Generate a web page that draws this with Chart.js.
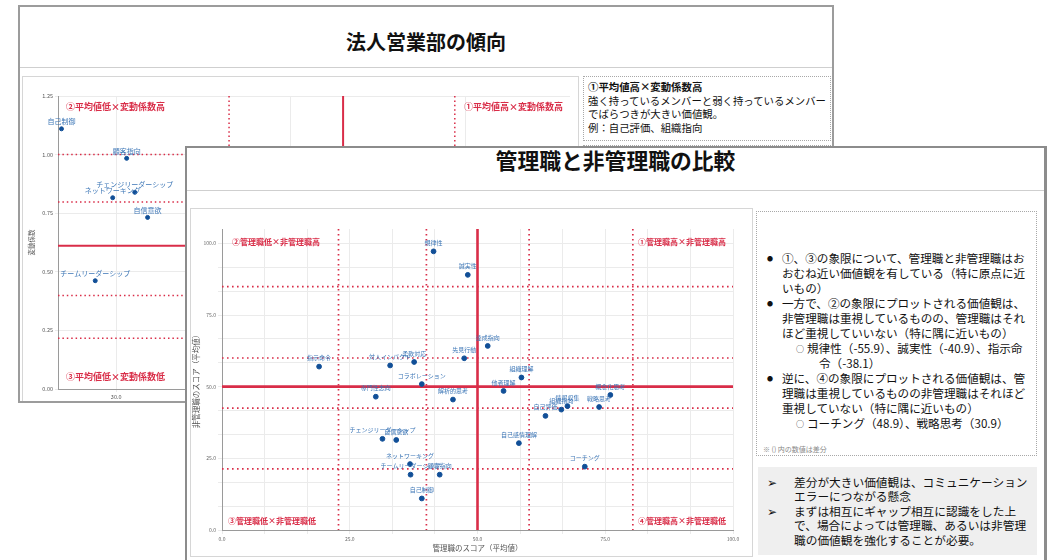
<!DOCTYPE html>
<html><head><meta charset="utf-8">
<script src="https://cdn.jsdelivr.net/npm/chart.js@4.4.0/dist/chart.umd.min.js"></script>
<style>
body{margin:0;width:1051px;height:560px;overflow:hidden;background:#fff;font-family:"Noto Sans CJK JP","Noto Sans",sans-serif;position:relative;color:#111;}
.a{position:absolute;box-sizing:border-box;}
#back{left:18px;top:5px;width:816px;height:398px;border:2px solid #9c9c9c;background:#fff;overflow:hidden;z-index:1;}
#front{left:185px;top:146px;width:862px;height:430px;border:2px solid #8c8c8c;border-right:3px solid #8c8c8c;background:#fff;overflow:hidden;z-index:3;}
.title{left:0;width:100%;text-align:center;font-weight:bold;white-space:nowrap;}
.hline{left:0;width:100%;height:1px;background:#cfcfcf;}
.card{border:1px solid #d6d6d6;background:#fff;}
.dbox{border:1px dotted #a8a8a8;}
.row{position:absolute;white-space:nowrap;}
.dot{font-size:6px;}
</style>
</head><body>
<script>
// ---------- data: front chart (管理職と非管理職の比較) ----------
const frontNames = ['規律性','誠実性','指示命令','対人インパクト','柔軟対応','コラボレーション','先見行動','達成指向','組織理解','他者理解','専門性志向','解析的思考','チェンジリーダーシップ','自信意欲','ネットワーキング','チームリーダーシップ','顧客指向','自己制御','概念化思考','戦略思考','情報収集','組織指向','自己評価','自己感情理解','コーチング'];
const managerScore = [41.4,48.1,19.0,32.9,37.6,39.1,47.4,52.0,58.6,55.1,30.1,45.2,31.4,34.1,36.8,36.9,42.6,39.1,76.0,73.8,67.6,66.4,63.3,58.1,71.0];
const staffScore   = [97.2,89.0,57.0,57.4,58.6,50.9,59.9,64.2,53.2,48.5,46.5,45.5,31.8,31.4,23.0,19.3,19.3,11.0,47.1,42.9,43.2,42.0,39.8,30.3,22.1];
const frontSolidX = [50];
const frontSolidY = [50];
const frontDotX = [22.8,40.0,60.1,80.4];
const frontDotY = [84.9,60.0,42.5,21.3];
const frontQuadLabels = ['①管理職高×非管理職高','②管理職低×非管理職高','③管理職低×非管理職低','④管理職高×非管理職低'];
const frontTickStep = 25/3;

// ---------- data: back chart (法人営業部の傾向) ----------
const backNames = ['自己制御','顧客指向','チェンジリーダーシップ','ネットワーキング','自信意欲','チームリーダーシップ'];
const backMean  = [25.3,30.9,31.6,29.7,32.7,28.2];
const backCV    = [1.110,0.984,0.839,0.816,0.732,0.462];
const backSolidX = [49.5];
const backSolidY = [0.611];
const backDotX = [39.7,59.1];
const backDotY = [1.0,0.798,0.399,0.217];
const backQuadLabels = ['①平均値高×変動係数高','②平均値低×変動係数高','③平均値低×変動係数低'];
const backXTicks = [30,45,60];
</script>

<div id="back" class="a">
  <div class="a title" style="top:5px;height:60px;line-height:60px;font-size:20px;">法人営業部の傾向</div>
  <div class="a hline" style="top:60px;"></div>
  <div class="a card" style="left:2px;top:69px;width:557px;height:340px;"></div>
  <div class="a" style="left:2px;top:69px;width:556px;height:340px;"><canvas id="cb" width="556" height="340" style="width:556px;height:340px;display:block"></canvas></div>
  <div class="a dbox" style="left:563px;top:69px;width:248px;height:65px;font-size:10.4px;line-height:13.6px;">
    <div class="row" style="left:4px;top:3px;font-weight:bold;">①平均値高×変動係数高</div>
    <div class="row" style="left:4px;top:16.6px;">強く持っているメンバーと弱く持っているメンバー</div>
    <div class="row" style="left:4px;top:30.2px;">でばらつきが大きい価値観。</div>
    <div class="row" style="left:4px;top:43.8px;">例：自己評価、組織指向</div>
  </div>
  <div class="a dbox" style="left:563px;top:138px;width:248px;height:200px;"></div>
</div>

<div id="front" class="a">
  <div class="a title" style="top:-3px;height:30px;line-height:30px;font-size:21.8px;">管理職と非管理職の比較</div>
  <div class="a hline" style="top:42px;"></div>
  <div class="a card" style="left:3px;top:60px;width:563px;height:349px;"></div>
  <div class="a" style="left:3px;top:60px;width:562px;height:347px;"><canvas id="cf" width="562" height="347" style="width:562px;height:347px;display:block"></canvas></div>
  <div class="a dbox" style="left:569px;top:63px;width:281px;height:245px;font-size:11.6px;line-height:15px;">
    <div class="row dot" style="left:10px;top:38.5px;">●</div>
    <div class="row" style="left:25px;top:38.5px;">①、③の象限について、管理職と非管理職はお</div>
    <div class="row" style="left:25px;top:53.5px;">おむね近い価値観を有している（特に原点に近</div>
    <div class="row" style="left:25px;top:68.5px;">いもの）</div>
    <div class="row dot" style="left:10px;top:83.5px;">●</div>
    <div class="row" style="left:25px;top:83.5px;">一方で、②の象限にプロットされる価値観は、</div>
    <div class="row" style="left:25px;top:98.5px;">非管理職は重視しているものの、管理職はそれ</div>
    <div class="row" style="left:25px;top:113.5px;">ほど重視していいない（特に隅に近いもの）</div>
    <div class="row" style="left:39px;top:128.5px;font-size:8px;">○</div>
    <div class="row" style="left:50px;top:128.5px;">規律性（-55.9）、誠実性（-40.9）、指示命</div>
    <div class="row" style="left:62px;top:143.5px;">令（-38.1）</div>
    <div class="row dot" style="left:10px;top:158.5px;">●</div>
    <div class="row" style="left:25px;top:158.5px;">逆に、④の象限にプロットされる価値観は、管</div>
    <div class="row" style="left:25px;top:173.5px;">理職は重視しているものの非管理職はそれほど</div>
    <div class="row" style="left:25px;top:188.5px;">重視していない（特に隅に近いもの）</div>
    <div class="row" style="left:39px;top:203.5px;font-size:8px;">○</div>
    <div class="row" style="left:50px;top:203.5px;">コーチング（48.9）、戦略思考（30.9）</div>
    <div class="row" style="left:6px;top:233px;font-size:7px;line-height:9px;color:#888;">※ () 内の数値は差分</div>
  </div>
  <div class="a" style="left:571px;top:319px;width:279px;height:88px;background:#efefef;font-size:11.7px;line-height:14.6px;">
    <div class="row" style="left:9px;top:7.5px;">➢</div>
    <div class="row" style="left:36px;top:7.5px;">差分が大きい価値観は、コミュニケーション</div>
    <div class="row" style="left:36px;top:22.1px;">エラーにつながる懸念</div>
    <div class="row" style="left:9px;top:36.7px;">➢</div>
    <div class="row" style="left:36px;top:36.7px;">まずは相互にギャップ相互に認識をした上</div>
    <div class="row" style="left:36px;top:51.3px;">で、場合によっては管理職、あるいは非管理</div>
    <div class="row" style="left:36px;top:65.9px;">職の価値観を強化することが必要。</div>
  </div>
</div>

<script>
const FONT = '"Noto Sans CJK JP","Noto Sans",sans-serif';
const RED = '#d92d48';

const overlay = {
  id: 'overlay',
  beforeDatasetsDraw(chart, args, o) {
    const {ctx, chartArea: a, scales: {x, y}} = chart;
    ctx.save();
    ctx.beginPath(); ctx.rect(a.left, a.top, a.right - a.left, a.bottom - a.top); ctx.clip();
    ctx.strokeStyle = RED;
    const seg = (x1, y1, x2, y2) => { ctx.beginPath(); ctx.moveTo(x1, y1); ctx.lineTo(x2, y2); ctx.stroke(); };
    ctx.lineWidth = o.dotWidth; ctx.setLineDash(o.dash); ctx.lineCap = 'butt';
    o.dotX.forEach(v => { const p = x.getPixelForValue(v); seg(p, a.top, p, a.bottom); });
    o.dotY.forEach(v => { const p = y.getPixelForValue(v); seg(a.left, p, a.right, p); });
    ctx.setLineDash([]); ctx.lineWidth = o.solidWidth;
    o.solidX.forEach(v => { const p = x.getPixelForValue(v); seg(p, a.top, p, a.bottom); });
    o.solidY.forEach(v => { const p = y.getPixelForValue(v); seg(a.left, p, a.right, p); });
    ctx.restore();
  },
  afterDatasetsDraw(chart, args, o) {
    const {ctx, chartArea: a} = chart;
    ctx.save();
    ctx.font = o.labelSize + 'px ' + FONT;
    ctx.fillStyle = '#3c76b6';
    ctx.textAlign = 'center'; ctx.textBaseline = 'middle';
    chart.getDatasetMeta(0).data.forEach((pt, i) => ctx.fillText(o.names[i], pt.x, pt.y - o.labelOffset));
    ctx.font = 'bold ' + o.quadSize + 'px ' + FONT;
    ctx.fillStyle = RED;
    o.quads.forEach(q => {
      ctx.textAlign = q.align;
      const px = q.align === 'left' ? a.left + q.dx : a.right - q.dx;
      const py = q.top ? a.top + q.dy : a.bottom - q.dy;
      ctx.fillText(q.text, px, py);
    });
    ctx.restore();
  }
};

// ---------- front chart ----------
new Chart(document.getElementById('cf'), {
  type: 'scatter',
  data: { datasets: [{
    data: managerScore.map((v, i) => ({x: v, y: staffScore[i]})),
    backgroundColor: '#114f97', borderColor: '#114f97', pointRadius: 2.4, pointHoverRadius: 2.4
  }]},
  options: {
    responsive: false, animation: false, devicePixelRatio: 1,
    layout: { padding: {left: 0, top: 21, right: 19, bottom: 0} },
    plugins: {
      legend: {display: false}, tooltip: {enabled: false},
      overlay: {
        names: frontNames, labelSize: 6, labelOffset: 8.7,
        dotX: frontDotX, dotY: frontDotY, solidX: frontSolidX, solidY: frontSolidY,
        dotWidth: 1.7, dash: [1.6, 3.4], solidWidth: 2.6, quadSize: 8,
        quads: [
          {text: frontQuadLabels[0], align: 'right', dx: 7, top: true, dy: 13},
          {text: frontQuadLabels[1], align: 'left', dx: 10, top: true, dy: 13},
          {text: frontQuadLabels[2], align: 'left', dx: 6, top: false, dy: 9},
          {text: frontQuadLabels[3], align: 'right', dx: 7, top: false, dy: 9}
        ]
      }
    },
    scales: {
      x: {
        type: 'linear', min: 0, max: 100,
        afterBuildTicks: s => { const t = []; for (let i = 0; i <= 12; i++) t.push({value: i * frontTickStep}); s.ticks = t; },
        afterFit: s => { s.height = 25; },
        grid: {color: '#ebebeb', tickLength: 4, drawTicks: true},
        border: {color: '#9a9a9a', width: 1},
        ticks: {font: {size: 5, family: FONT}, color: '#666', padding: 2, maxRotation: 0, autoSkip: false,
          callback: v => (Math.abs(v / 25 - Math.round(v / 25)) < 1e-6 ? (Math.round(v * 10) / 10).toFixed(1) : '')},
        title: {display: true, text: '管理職のスコア（平均値）', font: {size: 7.5, family: FONT}, color: '#555', padding: {top: 0, bottom: 2}}
      },
      y: {
        type: 'linear', min: 0, max: 105,
        afterBuildTicks: s => { const t = []; for (let i = 0; i <= 12; i++) t.push({value: i * frontTickStep}); s.ticks = t; },
        afterFit: s => { s.width = 32; },
        grid: {color: '#ebebeb', tickLength: 4},
        border: {color: '#9a9a9a', width: 1},
        ticks: {font: {size: 5, family: FONT}, color: '#666', padding: 2, autoSkip: false,
          callback: v => (Math.abs(v / 25 - Math.round(v / 25)) < 1e-6 ? (Math.round(v * 10) / 10).toFixed(1) : '')},
        title: {display: true, text: '非管理職のスコア（平均値）', font: {size: 7.5, family: FONT}, color: '#555', padding: {top: 2, bottom: 0}}
      }
    }
  },
  plugins: [overlay]
});

// ---------- back chart ----------
new Chart(document.getElementById('cb'), {
  type: 'scatter',
  data: { datasets: [{
    data: backMean.map((v, i) => ({x: v, y: backCV[i]})),
    backgroundColor: '#114f97', borderColor: '#114f97', pointRadius: 2, pointHoverRadius: 2
  }]},
  options: {
    responsive: false, animation: false, devicePixelRatio: 1,
    layout: { padding: {left: 0, top: 20, right: 8, bottom: 0} },
    plugins: {
      legend: {display: false}, tooltip: {enabled: false},
      overlay: {
        names: backNames, labelSize: 7, labelOffset: 7.5,
        dotX: backDotX, dotY: backDotY, solidX: backSolidX, solidY: backSolidY,
        dotWidth: 1.5, dash: [1.5, 2.9], solidWidth: 2, quadSize: 9,
        quads: [
          {text: backQuadLabels[0], align: 'right', dx: 7, top: true, dy: 10.5},
          {text: backQuadLabels[1], align: 'left', dx: 8, top: true, dy: 10.5},
          {text: backQuadLabels[2], align: 'left', dx: 8, top: false, dy: 12}
        ]
      }
    },
    scales: {
      x: {
        type: 'linear', min: 25, max: 69,
        afterBuildTicks: s => { s.ticks = backXTicks.map(v => ({value: v})); },
        afterFit: s => { s.height = 27; },
        grid: {color: '#ebebeb', tickLength: 3},
        border: {color: '#9a9a9a', width: 1},
        ticks: {font: {size: 5.5, family: FONT}, color: '#555', padding: 2, maxRotation: 0, autoSkip: false,
          callback: v => Number(v).toFixed(1)}
      },
      y: {
        type: 'linear', min: 0, max: 1.25,
        ticks: {stepSize: 0.25, font: {size: 5.5, family: FONT}, color: '#555', padding: 2,
          callback: v => Number(v).toFixed(2)},
        afterFit: s => { s.width = 36; },
        grid: {color: '#ebebeb', tickLength: 3},
        border: {color: '#9a9a9a', width: 1},
        title: {display: true, text: '変動係数', font: {size: 6.5, family: FONT}, color: '#555', padding: {top: 6, bottom: 0}}
      }
    }
  },
  plugins: [overlay]
});
</script>
</body></html>
